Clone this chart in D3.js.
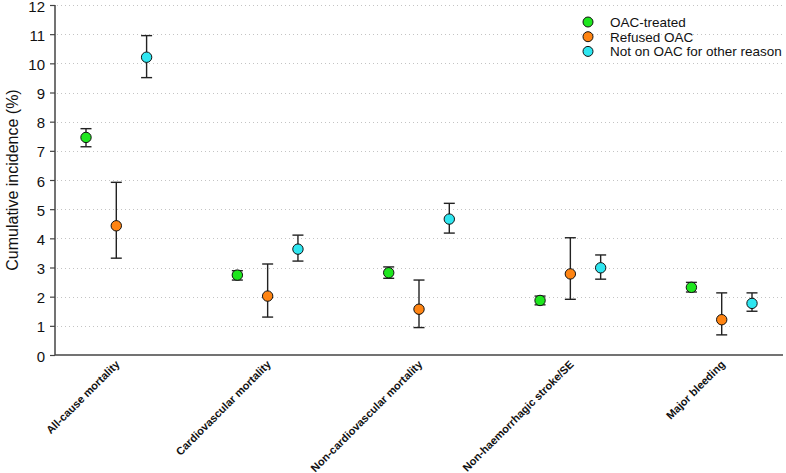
<!DOCTYPE html>
<html>
<head>
<meta charset="utf-8">
<script src="https://cdn.jsdelivr.net/npm/d3@7"></script>
<style>
html,body{margin:0;padding:0;background:#fff;}
svg{display:block;font-family:"Liberation Sans",Arial,sans-serif;}
</style>
</head>
<body>
<svg id="chart" width="786" height="473"></svg>
<script>
const categories = ["All-cause mortality","Cardiovascular mortality","Non-cardiovascular mortality","Non-haemorrhagic stroke/SE","Major bleeding"];
const seriesNames = ["OAC-treated","Refused OAC","Not on OAC for other reason"];
const seriesColors = ["#1ee61e","#ff8412","#2ee6f0"];
const oacValue = [7.46, 2.74, 2.82, 1.87, 2.32];
const oacLow   = [7.14, 2.57, 2.63, 1.72, 2.16];
const oacHigh  = [7.76, 2.89, 3.02, 2.02, 2.49];
const refValue = [4.43, 2.02, 1.57, 2.78, 1.21];
const refLow   = [3.32, 1.30, 0.94, 1.91, 0.69];
const refHigh  = [5.92, 3.12, 2.57, 4.02, 2.13];
const othValue = [10.21, 3.63, 4.66, 2.99, 1.77];
const othLow   = [9.51, 3.22, 4.18, 2.60, 1.50];
const othHigh  = [10.95, 4.11, 5.20, 3.43, 2.13];
const yTicks = [0,1,2,3,4,5,6,7,8,9,10,11,12];
const yTitle = "Cumulative incidence (%)";

const values = [oacValue, refValue, othValue];
const lows = [oacLow, refLow, othLow];
const highs = [oacHigh, refHigh, othHigh];

const svg = d3.select("#chart");
const mLeft = 55, mRight = 783, mTop = 5, mBottom = 355;

const x = d3.scalePoint().domain(categories).range([mLeft, mRight]).padding(0.405);
const xs = d3.scalePoint().domain(seriesNames).range([-30.3, 30.3]);
const y = d3.scaleLinear().domain([0, 12]).range([mBottom, mTop]);

// gridlines
svg.append("g").selectAll("line").data(yTicks.filter(d => d > 0)).join("line")
  .attr("x1", mLeft + 2).attr("x2", mRight)
  .attr("y1", d => Math.round(y(d)) + 0.5).attr("y2", d => Math.round(y(d)) + 0.5)
  .attr("stroke", "#c4c4c4").attr("stroke-width", 1).attr("stroke-dasharray", "1,3");

// y axis
const yAxis = svg.append("g").attr("transform", `translate(${mLeft},0)`)
  .call(d3.axisLeft(y).tickValues(yTicks).tickSize(5).tickPadding(5).tickFormat(d3.format("d")));
yAxis.select(".domain").attr("stroke", "#444").attr("stroke-width", 1.5).attr("d", `M0,${mTop}V${mBottom}`);
yAxis.selectAll(".tick line").attr("stroke", "#444").attr("stroke-width", 1.2);
yAxis.selectAll(".tick text").attr("font-size", 15).attr("fill", "#111").attr("dy", "0.41em")
  .attr("font-family", "Liberation Sans, Arial, sans-serif");

// x axis
const xAxis = svg.append("g").attr("transform", `translate(0,${mBottom})`)
  .call(d3.axisBottom(x).tickSize(0).tickFormat(""));
xAxis.select(".domain").attr("stroke", "#444").attr("stroke-width", 1.5).attr("d", `M${mLeft},0H${mRight}`);

// x labels
svg.append("g").selectAll("text").data(categories).join("text")
  .attr("transform", d => `translate(${x(d) + 4},${mBottom + 10}) rotate(-45)`)
  .attr("text-anchor", "end")
  .attr("font-size", 11).attr("font-weight", "bold").attr("fill", "#111")
  .text(d => d);

// y title
svg.append("text")
  .attr("transform", `translate(18,${(mTop + mBottom) / 2}) rotate(-90)`)
  .attr("text-anchor", "middle").attr("font-size", 16).attr("fill", "#111")
  .text(yTitle);

// series
seriesNames.forEach((s, si) => {
  const g = svg.append("g");
  const data = categories.map((c, i) => ({c, v: values[si][i], lo: lows[si][i], hi: highs[si][i]}));
  const cx = d => x(d.c) + xs(s);
  g.selectAll("line.v").data(data).join("line")
    .attr("x1", cx).attr("x2", cx).attr("y1", d => y(d.lo)).attr("y2", d => y(d.hi))
    .attr("stroke", "#222").attr("stroke-width", 1.4);
  g.selectAll("line.lo").data(data).join("line")
    .attr("x1", d => cx(d) - 5.5).attr("x2", d => cx(d) + 5.5).attr("y1", d => y(d.lo)).attr("y2", d => y(d.lo))
    .attr("stroke", "#222").attr("stroke-width", 1.4);
  g.selectAll("line.hi").data(data).join("line")
    .attr("x1", d => cx(d) - 5.5).attr("x2", d => cx(d) + 5.5).attr("y1", d => y(d.hi)).attr("y2", d => y(d.hi))
    .attr("stroke", "#222").attr("stroke-width", 1.4);
  g.selectAll("circle").data(data).join("circle")
    .attr("cx", cx).attr("cy", d => y(d.v)).attr("r", 5.2)
    .attr("fill", seriesColors[si]).attr("stroke", "#111").attr("stroke-width", 1);
});

// legend
const legend = svg.append("g").attr("transform", "translate(588,22)");
seriesNames.forEach((s, i) => {
  const row = legend.append("g").attr("transform", `translate(0,${i * 14.7})`);
  row.append("circle").attr("r", 5).attr("fill", seriesColors[i]).attr("stroke", "#111").attr("stroke-width", 1);
  row.append("text").attr("x", 22).attr("y", 5).attr("font-size", 13.5).attr("fill", "#111").text(s);
});
</script>
</body>
</html>
